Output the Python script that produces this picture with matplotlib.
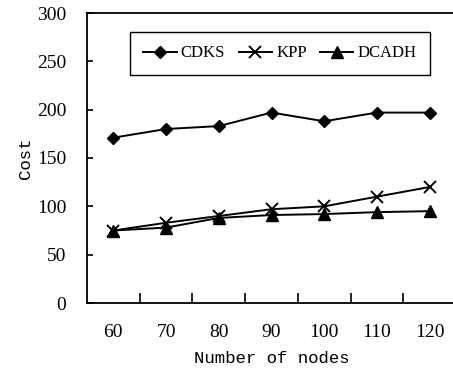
import matplotlib
matplotlib.use("Agg")
import matplotlib.pyplot as plt
import numpy as np

nodes = [60, 70, 80, 90, 100, 110, 120]
cdks = [171, 180, 183, 197, 188, 197, 197]
kpp = [75, 83, 90, 97, 100, 110, 120]
dcadh = [75, 78, 88, 91, 92, 94, 95]

plt.rcParams['font.family'] = ['Liberation Serif', 'DejaVu Serif']

fig = plt.figure(figsize=(4.53, 3.74), dpi=100)
ax = fig.add_axes([87 / 453, 71 / 374, 369 / 453, 290 / 374])

x = np.arange(len(nodes))
ax.plot(x, cdks, color='black', lw=1.4, marker='D', ms=6, label='CDKS')
ax.plot(x, kpp, color='black', lw=1.4, marker='x', ms=9, mew=1.4, label='KPP')
ax.plot(x, dcadh, color='black', lw=1.4, marker='^', ms=8, label='DCADH')

ax.set_xlim(-0.5, len(nodes) - 0.5)
ax.set_ylim(0, 300)
ax.set_yticks(range(0, 301, 50))
ax.set_xticks(np.arange(0.5, len(nodes) - 0.5, 1))
ax.set_xticklabels([])
ax.set_xticks(x, minor=True)
ax.set_xticklabels([str(n) for n in nodes], minor=True)
ax.tick_params(axis='x', which='major', direction='in', length=7, width=1.2)
ax.tick_params(axis='x', which='minor', length=0, pad=15, labelsize=14)
ax.tick_params(axis='y', direction='in', length=4, width=1.2, pad=15, labelsize=14)
for s in ax.spines.values():
    s.set_linewidth(1.3)

ax.set_xlabel('Number of nodes', fontsize=12.5, family=['Liberation Mono', 'DejaVu Sans Mono'], labelpad=7)
ax.set_ylabel('Cost', fontsize=12.5, family=['Liberation Mono', 'DejaVu Sans Mono'], labelpad=3)

leg = ax.legend(ncol=3, loc='upper left', bbox_to_anchor=(0.1165, 0.934),
                fontsize=12, fancybox=False, edgecolor='black',
                handlelength=2.0, handletextpad=0.25, columnspacing=0.8,
                borderpad=0.8, borderaxespad=0, framealpha=1)
leg.get_frame().set_linewidth(1.0)

fig.savefig('out.png', dpi=100)
